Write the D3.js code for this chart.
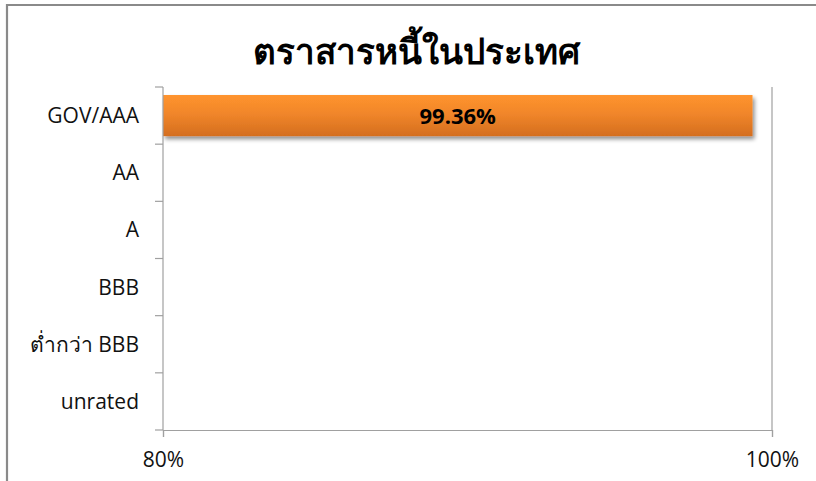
<!DOCTYPE html>
<html><head><meta charset="utf-8">
<script src="https://cdn.jsdelivr.net/npm/d3@7"></script>
<style>
html,body{margin:0;padding:0;background:#fff;}
svg{display:block;font-family:"Open Sans","Noto Sans",sans-serif;}
</style></head>
<body>
<svg id="chart" width="816" height="481"></svg>
<script>
const title = "ตราสารหนี้ในประเทศ";
const categories = ["GOV/AAA", "AA", "A", "BBB", "ต่ำกว่า BBB", "unrated"];
const values = [99.36, 0, 0, 0, 0, 0];
const valueLabels = ["99.36%", "", "", "", "", ""];
const xTicks = [80, 100];
const xTickLabels = ["80%", "100%"];

const svg = d3.select("#chart");
const W = 816, H = 481;
const m = {left: 163, right: 44, top: 87, bottom: 51};

// outer frame
svg.append("path").attr("d", `M7,${H} L7,5 L${W},5`).attr("fill","none")
  .attr("stroke","#8a8a8a").attr("stroke-width",2.2);

const defs = svg.append("defs");
const g1 = defs.append("linearGradient").attr("id","barGrad").attr("x1",0).attr("y1",0).attr("x2",0).attr("y2",1);
g1.append("stop").attr("offset","0%").attr("stop-color","#ff942e");
g1.append("stop").attr("offset","45%").attr("stop-color","#f1862a");
g1.append("stop").attr("offset","100%").attr("stop-color","#d46e1f");
const f = defs.append("filter").attr("id","shadow").attr("x","-5%").attr("y","-30%").attr("width","110%").attr("height","180%");
f.append("feGaussianBlur").attr("in","SourceAlpha").attr("stdDeviation",2.2);
f.append("feOffset").attr("dx",2).attr("dy",3).attr("result","ob");
f.append("feComponentTransfer").append("feFuncA").attr("type","linear").attr("slope",0.45);
const mg = f.append("feMerge"); mg.append("feMergeNode"); mg.append("feMergeNode").attr("in","SourceGraphic");

const x = d3.scaleLinear().domain([80,100]).range([m.left, W - m.right]);
const y = d3.scaleBand().domain(categories).range([m.top, H - m.bottom]).paddingInner(0.28).paddingOuter(0.14);
const yEdge = d3.scaleLinear().domain([0, categories.length]).range([m.top, H - m.bottom]);

// title
svg.append("text").attr("x",416).attr("y",64).attr("text-anchor","middle")
  .attr("font-size",35).attr("font-weight","bold").attr("fill","#000").text(title);

// gridline at 100%
svg.append("g").selectAll("line").data(xTicks.filter(t => t !== 80)).join("line")
  .attr("x1", d => x(d)).attr("x2", d => x(d)).attr("y1", m.top).attr("y2", H - m.bottom)
  .attr("stroke","#a0a0a0").attr("stroke-width",1.2);

// bars
const data = categories.map((c,i) => ({c, v: values[i], lab: valueLabels[i]})).filter(d => d.v > 80);
svg.append("g").selectAll("rect").data(data).join("rect")
  .attr("x", x(80)).attr("y", d => y(d.c)).attr("width", d => x(d.v) - x(80)).attr("height", y.bandwidth())
  .attr("fill","url(#barGrad)").attr("filter","url(#shadow)");
svg.append("g").selectAll("text").data(data).join("text")
  .attr("x", d => (x(80) + x(d.v)) / 2).attr("y", d => y(d.c) + y.bandwidth()/2).attr("dy","0.36em")
  .attr("text-anchor","middle").attr("font-size",22).attr("font-weight","bold").attr("fill","#000").text(d => d.lab);

// y axis line and ticks
const ya = svg.append("g").attr("stroke","#a0a0a0").attr("stroke-width",1.2);
ya.append("line").attr("x1", m.left).attr("x2", m.left).attr("y1", m.top).attr("y2", H - m.bottom);
ya.selectAll("line.t").data(d3.range(categories.length + 1)).join("line").attr("class","t")
  .attr("x1", m.left - 8).attr("x2", m.left).attr("y1", d => yEdge(d)).attr("y2", d => yEdge(d));
svg.append("g").selectAll("text").data(categories).join("text")
  .attr("x", 139).attr("y", d => y(d) + y.bandwidth()/2).attr("dy","0.36em")
  .attr("text-anchor","end").attr("font-size",21).attr("fill","#111").text(d => d);

// x axis
const xa = svg.append("g").attr("transform", `translate(0,${H - m.bottom})`)
  .call(d3.axisBottom(x).tickValues(xTicks).tickFormat((d,i) => xTickLabels[i]).tickSize(7).tickPadding(15));
xa.select(".domain").attr("stroke","#a0a0a0").attr("stroke-width",1.2);
xa.selectAll(".tick line").attr("stroke","#a0a0a0").attr("stroke-width",1.2);
xa.selectAll(".tick text").attr("font-size",21).attr("fill","#111").attr("font-family","\"Open Sans\",sans-serif");
</script>
</body></html>
